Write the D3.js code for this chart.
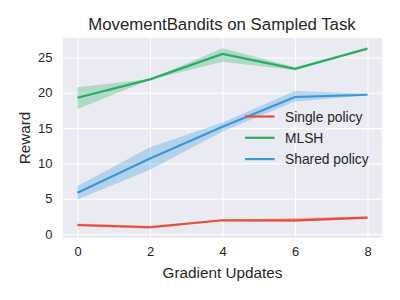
<!DOCTYPE html>
<html><head><meta charset="utf-8">
<script src="https://cdn.jsdelivr.net/npm/d3@7"></script>
<style>body{margin:0;background:#fff}svg{display:block}text{font-family:"Liberation Sans",Arial,sans-serif;fill:#262626}</style>
</head><body><svg id="c" width="400" height="300"></svg>
<script>
const steps = [0, 2, 4, 6, 8];
const seriesNames = ["Single policy", "MLSH", "Shared policy"];
const colors = ["#e74c3c", "#27ae60", "#3498db"];
const singleMean = [1.27, 0.95, 1.94, 1.94, 2.31];
const singleLo   = [1.05, 0.75, 1.85, 1.7, 2.15];
const singleHi   = [1.5, 1.15, 2.05, 2.25, 2.5];
const mlshMean = [19.3, 21.9, 25.5, 23.4, 26.25];
const mlshLo   = [17.7, 21.85, 24.4, 23.2, 26.2];
const mlshHi   = [20.8, 21.95, 26.3, 23.6, 26.3];
const sharedMean = [5.85, 10.7, 15.2, 19.4, 19.72];
const sharedLo   = [4.9, 9.1, 14.5, 18.75, 19.6];
const sharedHi   = [6.8, 12.3, 15.8, 20.25, 19.85];
const xTicks = [0, 2, 4, 6, 8];
const yTicks = [0, 5, 10, 15, 20, 25];
const title = "MovementBandits on Sampled Task";
const xLabel = "Gradient Updates";
const yLabel = "Reward";

const series = [
  {name: seriesNames[0], mean: singleMean, lo: singleLo, hi: singleHi, color: colors[0]},
  {name: seriesNames[1], mean: mlshMean, lo: mlshLo, hi: mlshHi, color: colors[1]},
  {name: seriesNames[2], mean: sharedMean, lo: sharedLo, hi: sharedHi, color: colors[2]}
];

const L = 63, R = 382, T = 38, B = 238;
const svg = d3.select("#c");
const x = d3.scaleLinear().domain([-0.4, 8.4]).range([L, R]);
const y = d3.scaleLinear().domain([-0.57, 27.76]).range([B, T]);

svg.append("rect").attr("x", L).attr("y", T).attr("width", R - L).attr("height", B - T).attr("fill", "#eaeaf2");

const gx = svg.append("g").attr("transform", `translate(0,${B})`)
  .call(d3.axisBottom(x).tickValues(xTicks).tickSize(0).tickPadding(9).tickFormat(d3.format("d")));
gx.select(".domain").remove();
gx.selectAll(".tick line").attr("y2", -(B - T)).attr("stroke", "#fff").attr("stroke-width", 1.1);
gx.selectAll("text").attr("font-size", 13).attr("fill", "#262626");

const gy = svg.append("g").attr("transform", `translate(${L},0)`)
  .call(d3.axisLeft(y).tickValues(yTicks).tickSize(0).tickPadding(10.5).tickFormat(d3.format("d")));
gy.select(".domain").remove();
gy.selectAll(".tick line").attr("x2", R - L).attr("stroke", "#fff").attr("stroke-width", 1.1);
gy.selectAll("text").attr("font-size", 13).attr("fill", "#262626");

const area = d3.area().x((d, i) => x(steps[i])).y0(d => y(d[0])).y1(d => y(d[1]));
const line = d3.line().x((d, i) => x(steps[i])).y(d => y(d));

series.forEach(s => {
  const band = s.lo.map((v, i) => [v, s.hi[i]]);
  svg.append("path").datum(band).attr("d", area).attr("fill", s.color).attr("fill-opacity", 0.3);
});
series.forEach(s => {
  svg.append("path").datum(s.mean).attr("d", line).attr("fill", "none")
    .attr("stroke", s.color).attr("stroke-width", 2.2);
});

svg.append("text").attr("x", 222).attr("y", 30).attr("text-anchor", "middle")
  .attr("font-size", 16.8).text(title);
svg.append("text").attr("x", (L + R) / 2).attr("y", 278).attr("text-anchor", "middle")
  .attr("font-size", 15.3).text(xLabel);
svg.append("text").attr("transform", `translate(29.5,${(T + B) / 2}) rotate(-90)`).attr("text-anchor", "middle")
  .attr("font-size", 15.3).text(yLabel);

const lg = svg.append("g");
series.forEach((s, i) => {
  const yy = 116.5 + i * 21.3;
  lg.append("line").attr("x1", 245).attr("x2", 274.5).attr("y1", yy).attr("y2", yy)
    .attr("stroke", s.color).attr("stroke-width", 2.2);
  lg.append("text").attr("x", 285).attr("y", yy + 5).attr("font-size", 13.8).text(s.name);
});
</script></body></html>
